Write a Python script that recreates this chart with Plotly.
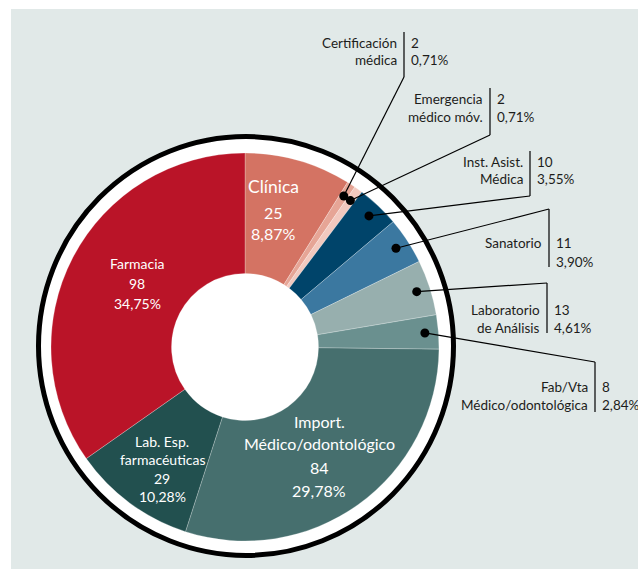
import math

import plotly.graph_objects as go

W, H = 638, 569

# data
categories = [
    "Clínica", "Certificación médica", "Emergencia médico móv.", "Inst. Asist. Médica",
    "Sanatorio", "Laboratorio de Análisis", "Fab/Vta Médico/odontológica",
    "Import. Médico/odontológico", "Lab. Esp. farmacéuticas", "Farmacia",
]
label_lines = [
    ["Clínica"], ["Certificación", "médica"], ["Emergencia", "médico móv."],
    ["Inst. Asist.", "Médica"], ["Sanatorio"], ["Laboratorio", "de Análisis"],
    ["Fab/Vta", "Médico/odontológica"], ["Import.", "Médico/odontológico"],
    ["Lab. Esp.", "farmacéuticas"], ["Farmacia"],
]
counts = [25, 2, 2, 10, 11, 13, 8, 84, 29, 98]
percents = ["8,87%", "0,71%", "0,71%", "3,55%", "3,90%", "4,61%", "2,84%", "29,78%", "10,28%", "34,75%"]
colors = ["#D47363", "#E6A596", "#F2C9BF", "#00446A", "#3B78A0",
          "#97AFAE", "#6A908F", "#466F6E", "#22504F", "#BA1428"]

FONT = "Lato, Roboto, sans-serif"
INK = "#1d1d1b"
BG = "#E1E9E8"

# geometry in pixels
CX, CY, R = 245, 347, 194
HOLE = 73.5


def px(x):
    return x / W


def py(y):
    return 1 - y / H


fig = go.Figure(go.Pie(
    labels=categories,
    values=counts,
    sort=False,
    direction="clockwise",
    rotation=0,
    hole=HOLE / R,
    marker=dict(colors=colors, line=dict(color="rgba(255,255,255,0.35)", width=0.7)),
    textinfo="none",
    hoverinfo="label+value",
    domain=dict(x=[px(CX - R), px(CX + R)], y=[py(CY + R), py(CY - R)]),
    showlegend=False,
))

shapes = [
    dict(type="rect", xref="paper", yref="paper", x0=px(11), x1=1.0, y0=0.0, y1=py(9),
         fillcolor=BG, line=dict(width=0), layer="below"),
    dict(type="circle", xref="paper", yref="paper",
         x0=px(246 - 207.5), x1=px(246 + 207.5), y0=py(346 + 209.5), y1=py(346 - 209.5),
         fillcolor="white", line=dict(color="black", width=5), layer="below"),
]
annotations = []


def add_lines(lines, x, ys, sizes, color, anchor):
    for text, y, size in zip(lines, ys, sizes):
        annotations.append(dict(
            x=px(x), y=py(y), xref="paper", yref="paper", text=text, showarrow=False,
            xanchor=anchor, yanchor="middle", font=dict(family=FONT, size=size, color=color),
        ))


# labels inside the big slices: index -> (x, line ys, font sizes)
inside = {
    0: (273, [187, 212, 233], [17.5, 16, 16]),
    9: (137, [263, 283, 303], [14, 14, 14]),
    8: (162, [441, 459, 478, 496], [14, 14, 14, 14]),
    7: (319, [421, 443, 467, 490], [16, 16, 16, 16]),
}
for i, (x, ys, sizes) in inside.items():
    lines = label_lines[i] + [str(counts[i]), percents[i]]
    add_lines(lines, x, ys, sizes, "white", "center")

# callouts for the small slices: index -> (bar x, bar top, bar bottom, elbow y, label ys, value ys)
callouts = {
    1: (404, 32, 77, 77, [43, 60], [43, 60]),
    2: (490, 88, 135, 135, [99, 117], [99, 117]),
    3: (530, 151, 196, 196, [162, 179], [162, 179]),
    4: (549, 209, 267, 209, [243], [243, 262]),
    5: (547, 283, 333, 283, [310, 328], [310, 328]),
    6: (595, 362, 412, 362, [387, 405], [387, 405]),
}
total = sum(counts)
starts = [sum(counts[:i]) for i in range(len(counts))]
for i, (bx, by0, by1, ey, lys, vys) in callouts.items():
    mid = (starts[i] + counts[i] / 2) / total * 2 * math.pi
    dr = R * 0.93
    dx, dy = CX + dr * math.sin(mid), CY - dr * math.cos(mid)
    shapes.append(dict(type="line", xref="paper", yref="paper", x0=px(dx), y0=py(dy),
                       x1=px(bx), y1=py(ey), line=dict(color="black", width=1.2)))
    shapes.append(dict(type="line", xref="paper", yref="paper", x0=px(bx), y0=py(by0),
                       x1=px(bx), y1=py(by1), line=dict(color="black", width=1.2)))
    shapes.append(dict(type="circle", xref="paper", yref="paper",
                       x0=px(dx - 4.5), x1=px(dx + 4.5), y0=py(dy + 4.5), y1=py(dy - 4.5),
                       fillcolor="black", line=dict(width=0)))
    add_lines(label_lines[i], bx - 5, lys, [13.5] * 2, INK, "right")
    add_lines([str(counts[i]), percents[i]], bx + 5, vys, [13.5] * 2, INK, "left")

fig.update_layout(
    width=W,
    height=H,
    margin=dict(l=0, r=0, t=0, b=0),
    paper_bgcolor="white",
    plot_bgcolor="white",
    shapes=shapes,
    annotations=annotations,
)

fig.write_html("out.html", config={"displayModeBar": False},
               post_script="document.body.style.margin = '0';")
